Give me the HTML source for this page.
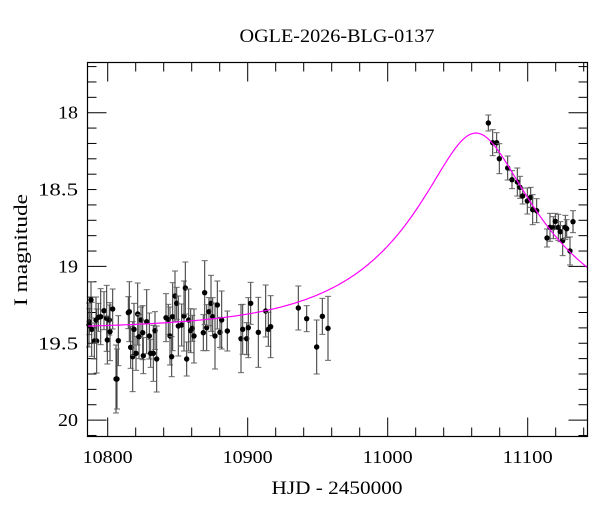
<!DOCTYPE html>
<html><head><meta charset="utf-8"><style>
html,body{margin:0;padding:0;background:#fff;}
svg{display:block;font-family:"Liberation Serif",serif;}
</style></head><body>
<svg id="s" width="600" height="512" viewBox="0 0 600 512" xmlns="http://www.w3.org/2000/svg">
<rect width="600" height="512" fill="#fff"/>
<text x="337" y="42" font-size="19" text-anchor="middle" textLength="195" lengthAdjust="spacingAndGlyphs">OGLE-2026-BLG-0137</text>
<text x="337" y="494" font-size="19" text-anchor="middle" textLength="131" lengthAdjust="spacingAndGlyphs">HJD - 2450000</text>
<text transform="translate(27,250) rotate(-90)" font-size="19" text-anchor="middle" textLength="112" lengthAdjust="spacingAndGlyphs">I magnitude</text>
<g id="ticks" stroke="#000" stroke-width="1"></g>
<g id="lbl" font-size="18"></g>
<g id="data"></g>
<path id="curve" fill="none" stroke="#ff00ff" stroke-width="1.2"/>
<rect x="87.5" y="62.5" width="500" height="374" fill="none" stroke="#000" stroke-width="1.2"/>
</svg>
<script>
var NS="http://www.w3.org/2000/svg";
function el(t,a,p){var e=document.createElementNS(NS,t);for(var k in a)e.setAttribute(k,a[k]);p.appendChild(e);return e;}
var L=87.5,R=587.5,T=62.5,B=436.5;
function X(t){return 107.7+1.4*(t-10800);}
function Y(m){return 112.7+153.7*(m-18);}
var tk=document.getElementById('ticks'),lb=document.getElementById('lbl');
for(var t=10780;t<=11140;t+=20){var x=X(t);if(x<L||x>R)continue;var big=(t%100==0);var len=big?19:9;
el('line',{x1:x,y1:B,x2:x,y2:B-len},tk);el('line',{x1:x,y1:T,x2:x,y2:T+len},tk);
if(big){var tx=el('text',{x:x,y:463,'text-anchor':'middle',textLength:50,lengthAdjust:'spacingAndGlyphs'},lb);tx.textContent=t;}}
for(var i=177;i<=201;i++){var m=i/10,y=Y(m);if(y<T||y>B)continue;var big=(i%5==0);var len=(i%10==0)?19:9;
el('line',{x1:L,y1:y,x2:L+len,y2:y},tk);el('line',{x1:R,y1:y,x2:R-len,y2:y},tk);
if(big){var s=(i%10==0)?String(i/10):m.toFixed(1);var tx=el('text',{x:78,y:y+6,'text-anchor':'end',textLength:s.length*10,lengthAdjust:'spacingAndGlyphs'},lb);tx.textContent=s;}}
var d="";for(var t=10780;t<=11145;t+=1){var u0=0.32,tE=98,t0=11063;var tau=(t-t0)/tE;var u=Math.sqrt(u0*u0+tau*tau);
var A=(u*u+2)/(u*Math.sqrt(u*u+4));var m=19.41-2.5*Math.log10(A);var x=X(t);if(x<L)continue;if(x>R)x=R;
d+=(d?"L":"M")+x.toFixed(1)+" "+Y(m).toFixed(1);}
document.getElementById('curve').setAttribute('d',d);
var dg=document.getElementById('data');
var z2=[[88,185],[95,208],[103,243],[110,243],[108,180],[115,172],[122,170],[132,152],[140,175],[142,240],[148,180],[150,215],[158,147],[168,357],[175,242],[205,158],[208,155],[212,262],[218,290],[222,208],[228,280],[233,162],[237,230],[243,180],[248,218],[250,287],[260,185],[268,228],[272,280],[280,280],[285,212],[290,297],[318,173],[325,178],[330,228],[335,290],[338,170],[345,108],[350,130],[355,198],[365,195],[372,168],[376,84],[380,297],[386,180],[392,212],[397,205],[402,228],[430,218],[434,98],[440,203],[447,155],[453,130],[458,170],[465,228],[472,135],[480,217],[485,180],[502,213],[543,236],[548,208],[560,236],[565,203],[572,130],[595,217],[617,153],[625,208],[632,200],[715,144],[740,176],[770,261],[787,169],[804,205]];
var z3=[[145,69],[158,128],[170,128],[178,176],[203,204],[216,239],[232,246],[240,262],[248,288],[262,303],[272,292],[278,329],[290,332],[321,414],[330,382],[340,383],[346,364],[355,382],[361,395],[368,422],[376,382],[380,386],[390,453],[399,365]];
var pts=[];z2.forEach(function(p,i){pts.push([60+p[0]/3,260+p[1]/3,13+((i*37)%23)]);});
z3.forEach(function(p,i){pts.push([440+p[0]/3,100+p[1]/3,8+((i*13)%8)]);});
pts.push([89,325,22],[91,300,18],[117,379,30]);
pts.forEach(function(p){var x=p[0],y=p[1],e=p[2];var y1=Math.max(y-e,T),y2=Math.min(y+e,B);
el('line',{x1:x,y1:y1,x2:x,y2:y2,stroke:'#444','stroke-width':1.1},dg);
el('line',{x1:x-3,y1:y-e,x2:x+3,y2:y-e,stroke:'#666','stroke-width':1},dg);
el('line',{x1:x-3,y1:y+e,x2:x+3,y2:y+e,stroke:'#666','stroke-width':1},dg);
el('circle',{cx:x,cy:y,r:2.7,fill:'#000'},dg);});
</script>
</body></html>
